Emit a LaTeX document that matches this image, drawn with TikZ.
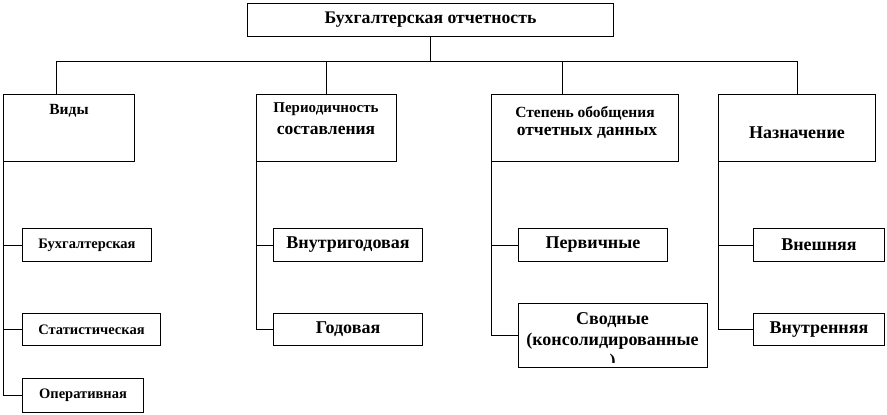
\documentclass[tikz,border=0pt]{standalone}
\usepackage{fontspec}
\setmainfont{Liberation Serif}
\begin{document}
\begin{tikzpicture}[x=1pt,y=-1pt,line width=1pt,
  box/.style={draw,rectangle,inner sep=0pt,anchor=north west},
  big/.style={font=\fontsize{18}{21}\selectfont\bfseries,align=center},
  small/.style={font=\fontsize{14.5}{17}\selectfont\bfseries,align=center}]
\useasboundingbox (0,0) rectangle (887,415);
% top
\node[box,minimum width=366pt,minimum height=33pt,big,font=\fontsize{17.7}{20}\selectfont\bfseries] (top) at (247,3) {Бухгалтерская отчетность};
% level 2
\node[box,minimum width=131pt,minimum height=67pt] (vidy) at (3,94) {};
\node[box,minimum width=140pt,minimum height=67pt] (per) at (256,94) {};
\node[box,minimum width=187pt,minimum height=67pt] (sgen) at (491,94) {};
\node[box,minimum width=157pt,minimum height=67pt] (nazn) at (718,94) {};
\node[small,font=\fontsize{15.5}{17}\selectfont\bfseries] (tvidy) at (69,111) {Виды};
\node[font=\fontsize{15}{17}\selectfont\bfseries] (tper1) at (326,109) {Периодичность};
\node[font=\fontsize{17.5}{20}\selectfont\bfseries] (tper2) at (326,130) {составления};
\node[font=\fontsize{15.5}{17}\selectfont\bfseries] (tsgen1) at (585,113) {Степень обобщения};
\node[font=\fontsize{17.5}{20}\selectfont\bfseries] (tsgen2) at (587,133) {отчетных данных};
\node[big] (tnazn) at (797,133) {Назначение};
% level 3
\node[box,minimum width=129pt,minimum height=33pt,small] (buh) at (22,228) {Бухгалтерская};
\node[box,minimum width=138pt,minimum height=32pt,small] (stat) at (22,313) {Статистическая};
\node[box,minimum width=121pt,minimum height=34pt,small] (oper) at (22,378) {Оперативная};
\node[box,minimum width=149pt,minimum height=33pt,big] (vnutrig) at (273,228) {Внутригодовая};
\node[box,minimum width=149pt,minimum height=32pt,big] (god) at (273,313) {Годовая};
\node[box,minimum width=149pt,minimum height=33pt,big] (perv) at (518,228) {Первичные};
\node[box,minimum width=189pt,minimum height=64pt] (svod) at (518,303) {};
\begin{scope}
\clip (518,303) rectangle (707,362);
\node[big,anchor=north,inner sep=0pt] (tsvod) at (612.5,312) {Сводные\\(консолидированные\\)};
\end{scope}
\node[box,minimum width=131pt,minimum height=33pt,big] (vnesh) at (753,228) {Внешняя};
\node[box,minimum width=131pt,minimum height=32pt,big] (vnutr) at (753,313) {Внутренняя};
% connectors
\coordinate (bus) at (430.7,61);
\coordinate (d1) at (56,61);
\coordinate (d3) at (562,61);
\draw (top.south -| bus) -- (bus);
\draw (vidy.north -| d1) -- (d1) -- (bus -| nazn.north) -- (nazn.north);
\draw (per.north) -- (per.north |- bus);
\draw (sgen.north -| d3) -- (d3);
\draw (vidy.south west) |- (oper.west);
\draw (vidy.south west |- buh.west) -- (buh.west);
\draw (vidy.south west |- stat.west) -- (stat.west);
\draw (per.south west) |- (god.west);
\draw (per.south west |- vnutrig.west) -- (vnutrig.west);
\draw (sgen.south west) |- (svod.west);
\draw (sgen.south west |- perv.west) -- (perv.west);
\draw (nazn.south west) |- (vnutr.west);
\draw (nazn.south west |- vnesh.west) -- (vnesh.west);
\end{tikzpicture}
\end{document}
